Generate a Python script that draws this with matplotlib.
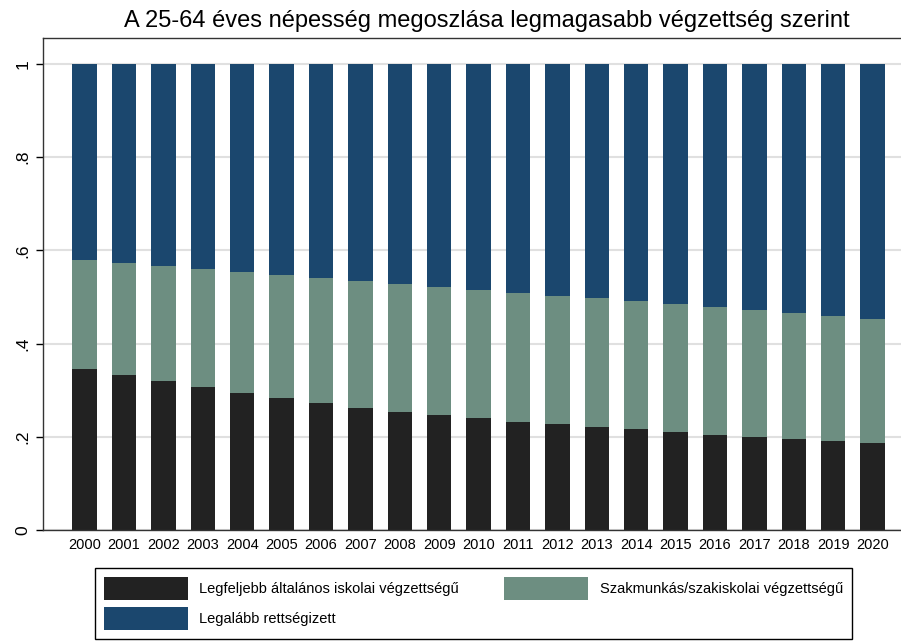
import numpy as np
import matplotlib
matplotlib.use('Agg')
import matplotlib.pyplot as plt

plt.rcParams['font.family'] = ['Liberation Sans', 'DejaVu Sans']

years = [str(y) for y in range(2000, 2021)]
alap = [0.345, 0.333, 0.320, 0.307, 0.294, 0.283, 0.273, 0.262, 0.253, 0.247, 0.240,
        0.232, 0.227, 0.221, 0.217, 0.210, 0.204, 0.200, 0.195, 0.191, 0.187]
szakmunkas = [0.234, 0.240, 0.247, 0.253, 0.260, 0.264, 0.268, 0.272, 0.275, 0.274, 0.275,
              0.277, 0.275, 0.277, 0.274, 0.275, 0.275, 0.272, 0.271, 0.268, 0.266]
erettsegi = [1 - a - b for a, b in zip(alap, szakmunkas)]

labels = ['Legfeljebb általános iskolai végzettségű',
          'Szakmunkás/szakiskolai végzettségű',
          'Legalább rettségizett']
colors = ['#222222', '#6d8e81', '#1b476e']

fig = plt.figure(figsize=(9.01, 6.43), dpi=100)
ax = fig.add_axes([0.048, 0.176, 0.952, 0.765])

x = np.arange(len(years))
w = 0.62
b1 = ax.bar(x, alap, w, color=colors[0], label=labels[0])
b2 = ax.bar(x, szakmunkas, w, bottom=alap, color=colors[1], label=labels[1])
b3 = ax.bar(x, erettsegi, w, bottom=np.array(alap) + np.array(szakmunkas),
            color=colors[2], label=labels[2])

ax.set_xlim(-1.05, 20.72)
ax.set_ylim(0, 1.056)
ax.set_yticks([0, 0.2, 0.4, 0.6, 0.8, 1.0])
ax.set_yticklabels(['0', '.2', '.4', '.6', '.8', '1'], rotation=90, va='center', fontsize=12.5)
ax.set_xticks(x)
ax.set_xticklabels(years, fontsize=10.5)
ax.tick_params(axis='x', length=0, pad=6)
ax.tick_params(axis='y', length=5, width=1, pad=4)
ax.yaxis.grid(True, color='#e0e0e0', linewidth=1.5)
ax.set_axisbelow(True)
ax.spines['right'].set_visible(False)
for s in ['left', 'top', 'bottom']:
    ax.spines[s].set_color('#333333')
    ax.spines[s].set_linewidth(1)

fig.text(0.54, 0.968, 'A 25-64 éves népesség megoszlása legmagasabb végzettség szerint',
         fontsize=17, ha='center', va='center')

fig.legend([b1, b3, b2], [labels[0], labels[2], labels[1]], ncol=2,
           loc='upper left', bbox_to_anchor=(0.1055, 0.1166),
           fontsize=10.5, handlelength=5.75, handleheight=2.1, handletextpad=0.8,
           borderpad=0.6, labelspacing=0.45, columnspacing=3.1, borderaxespad=0,
           fancybox=False, edgecolor='black', framealpha=1)

fig.savefig('out.png', dpi=100)
